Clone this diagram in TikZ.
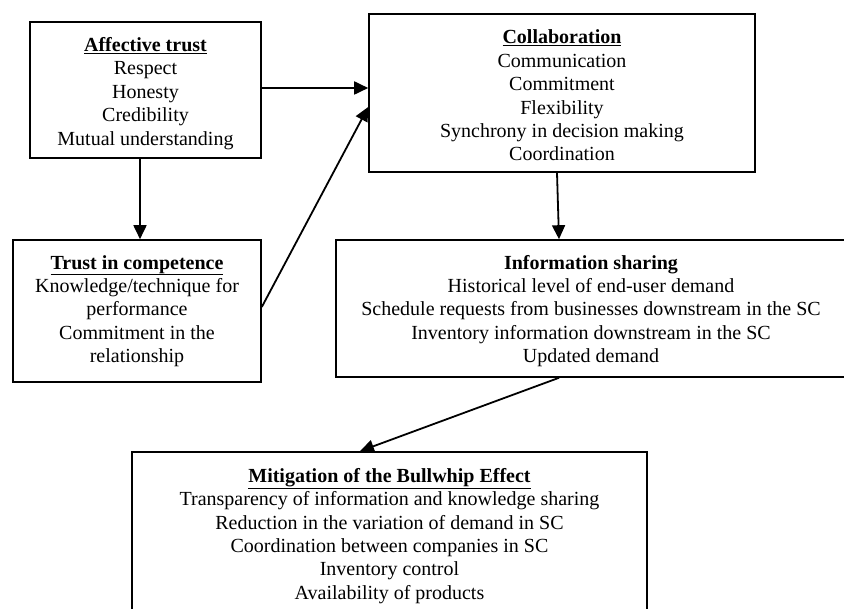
\documentclass[tikz,border=0pt]{standalone}
\usepackage{fontspec}
\setmainfont{Liberation Serif}
\usetikzlibrary{arrows.meta}
\tikzset{
  box/.style={draw=black, line width=1.6pt, fill=white, inner sep=0pt},
  txt/.style={inner sep=0pt, align=center, font=\fontsize{20}{23.4}\selectfont},
  conn/.style={line width=1.8pt, -{Triangle[length=14pt,width=13pt]}}
}
\begin{document}
\begin{tikzpicture}[x=1pt,y=-1pt]
\useasboundingbox (0,0) rectangle (844,609);
\clip (0,0) rectangle (844,609);
\fill[white] (0,0) rectangle (844,609);
\node[box, minimum width=231pt, minimum height=136pt] (aff) at (145.5,90) {};
\node[txt, yshift=-3.5pt] (afft) at (aff.center)
  {\underline{\textbf{Affective trust}}\\Respect\\Honesty\\Credibility\\Mutual understanding};
\node[box, minimum width=386pt, minimum height=158pt] (col) at (562,93) {};
\node[txt, yshift=-2.5pt] (colt) at (col.center)
  {\underline{\textbf{Collaboration}}\\Communication\\Commitment\\Flexibility\\Synchrony in decision making\\Coordination};
\node[box, minimum width=248pt, minimum height=142pt] (comp) at (137,311) {};
\node[txt] (compt) at (comp.center)
  {\underline{\textbf{Trust in competence}}\\Knowledge/technique for\\performance\\Commitment in the\\relationship};
\node[box, minimum width=510pt, minimum height=137pt] (info) at (591,308.5) {};
\node[txt, yshift=-2.5pt] (infot) at (info.center)
  {\textbf{Information sharing}\\Historical level of end-user demand\\Schedule requests from businesses downstream in the SC\\Inventory information downstream in the SC\\Updated demand};
\node[box, minimum width=515pt, minimum height=186pt] (bw) at (389.5,545) {};
\node[txt, yshift=9pt] (bwt) at (bw.center)
  {\underline{\textbf{Mitigation of the Bullwhip Effect}}\\Transparency of information and knowledge sharing\\Reduction in the variation of demand in SC\\Coordination between companies in SC\\Inventory control\\Availability of products};
\draw[conn] ([yshift=2pt]aff.east) -- ([yshift=2pt]aff.east -| col.west);
\draw[conn] ([yshift=4pt]comp.east) -- ([yshift=-14pt]col.west);
\draw[conn] ([xshift=-5.5pt]aff.south) -- ([xshift=3pt]comp.north);
\draw[conn] ([xshift=-5pt]col.south) -- ([xshift=-32pt]info.north);
\draw[conn] ([xshift=-32pt]info.south) -- ([xshift=-29.5pt]bw.north);
\end{tikzpicture}
\end{document}
